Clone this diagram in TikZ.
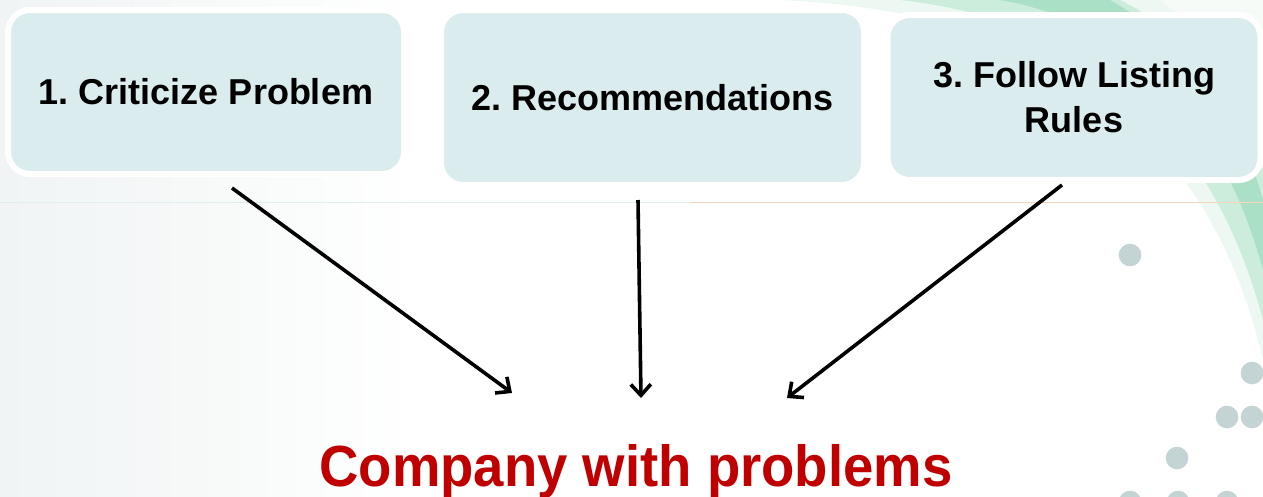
\documentclass[tikz,border=0pt]{standalone}
\usepackage{fontspec}
\setmainfont{Liberation Sans}
\newfontfamily\titlefont[FakeStretch=0.94]{Liberation Sans}
\usetikzlibrary{arrows.meta,calc}
\frenchspacing
\definecolor{boxfill}{HTML}{DAECED}
\definecolor{titlered}{HTML}{C00000}
\definecolor{dotgrey}{HTML}{C4D3D3}
\definecolor{swoosh}{HTML}{6CCB9C}
\definecolor{rulelt}{HTML}{E0F0F0}
\definecolor{ruleor}{HTML}{F5D6BC}
\definecolor{haze}{HTML}{F0F4F4}
\begin{document}
\begin{tikzpicture}[x=1pt,y=-1pt,
  stepbox/.style={draw=white, line width=6pt, fill=boxfill, rounded corners=22pt,
    inner sep=0pt, align=center, font=\bfseries\fontsize{36}{45}\selectfont},
  arr/.style={line width=3.6pt, -{Straight Barb[length=11pt,width=20pt]}},
  bgdot/.style={fill=dotgrey, draw=none}]
% canvas
\useasboundingbox (0,0) rectangle (1263,496);
\fill[white] (0,0) rectangle (1263,496);
\shade[left color=haze, right color=white] (0,0) rectangle (420,496);
% green swoosh in the upper right corner
\fill[swoosh, opacity=0.12] (780,0) .. controls (1000,10) and (1200,90) .. (1263,360) -- (1263,0) -- cycle;
\fill[swoosh, opacity=0.25] (900,0) .. controls (1080,20) and (1210,120) .. (1263,320)
  -- (1263,170) .. controls (1230,80) and (1180,30) .. (1120,0) -- cycle;
\fill[swoosh, opacity=0.35] (1000,0) .. controls (1120,20) and (1220,110) .. (1263,270)
  -- (1263,200) .. controls (1235,100) and (1180,40) .. (1110,0) -- cycle;
\fill[white, opacity=0.5] (1160,0) .. controls (1200,30) and (1240,70) .. (1263,120) -- (1263,0) -- cycle;
% thin rule under the boxes
\draw[rulelt, line width=1pt] (0,202) -- (690,202);
\draw[ruleor, line width=1pt] (690,202) -- (1263,202);
% grey dots
\fill[bgdot] (1130,255) circle (11.3);
\fill[bgdot] (1252,373) circle (11.3);
\fill[bgdot] (1227,417) circle (11.3);
\fill[bgdot] (1252,417) circle (11.3);
\fill[bgdot] (1177,458) circle (11.3);
\fill[bgdot] (1130,502) circle (11.3);
\fill[bgdot] (1178,502) circle (11.3);
\fill[bgdot] (1227,502) circle (11.3);
% steps
\node[stepbox, minimum width=396pt, minimum height=164pt] (b1) at (206,92) {1. Criticize Problem};
\node[stepbox, minimum width=423pt, minimum height=175pt] (b2) at (652.5,97.5) {2. Recommendations};
\node[stepbox, minimum width=373pt, minimum height=165pt] (b3) at (1074,97.5) {3. Follow Listing\\Rules};
% result
\node[font=\titlefont\bfseries\fontsize{58}{60}\selectfont, text=titlered, anchor=base, inner sep=0pt]
  (company) at (636,486) {Company with problems};
\coordinate (e1) at (512,393);
\coordinate (e2) at (641,398);
\coordinate (e3) at (787,398);
% connectors
\draw[arr] ($(b1.south)+(26,11)$) -- (e1);
\draw[arr] ($(b2.south)+(-14.5,12)$) -- (e2);
\draw[arr] ($(b3.south)+(-12,2)$) -- (e3);
\end{tikzpicture}
\end{document}
